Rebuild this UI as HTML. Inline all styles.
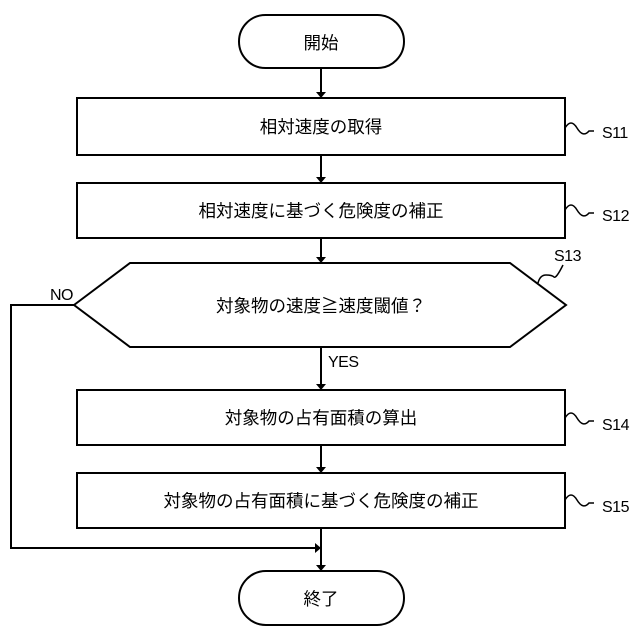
<!DOCTYPE html>
<html><head><meta charset="utf-8"><style>body{margin:0;background:#fff}svg{display:block}text{font-family:"Liberation Sans","Noto Sans CJK JP",sans-serif;fill:#000}</style></head><body>
<svg width="640" height="640" viewBox="0 0 640 640" xmlns="http://www.w3.org/2000/svg">
<g stroke="#000" stroke-width="2" fill="none">
<rect x="239" y="15" width="165" height="53" rx="26.5"/>
<rect x="77" y="98" width="488" height="57"/>
<rect x="77" y="183" width="488" height="55"/>
<polygon points="74,305 130,263 510,263 566,305 510,347 130,347"/>
<rect x="77" y="390" width="488" height="55"/>
<rect x="77" y="473" width="488" height="55"/>
<rect x="239" y="571" width="165" height="54" rx="27"/>
<line x1="321" y1="68" x2="321" y2="92"/>
<line x1="321" y1="155" x2="321" y2="177"/>
<line x1="321" y1="238" x2="321" y2="257"/>
<line x1="321" y1="347" x2="321" y2="384"/>
<line x1="321" y1="445" x2="321" y2="467"/>
<line x1="321" y1="528" x2="321" y2="565"/>
<polyline points="74,305 11,305 11,548 315,548"/>
<path d="M565,128 q6,-10 12,0 t12,3 l5,0" stroke-width="1.5"/>
<path d="M565,210 q6,-10 12,0 t12,3 l5,0" stroke-width="1.5"/>
<path d="M565,418 q6,-10 12,0 t12,3 l5,0" stroke-width="1.5"/>
<path d="M565,500 q6,-10 12,0 t12,3 l5,0" stroke-width="1.5"/>
<path d="M538,283 q2,-8 8,-8 t8,2 t9,-12" stroke-width="1.5"/>
</g>
<g fill="#000">
<path d="M316,92 L326,92 L321,98 z"/>
<path d="M316,177 L326,177 L321,183 z"/>
<path d="M316,257 L326,257 L321,263 z"/>
<path d="M316,384 L326,384 L321,390 z"/>
<path d="M316,467 L326,467 L321,473 z"/>
<path d="M316,565 L326,565 L321,571 z"/>
<path d="M315,543 L321,548 L315,553 z"/>
</g>
<g font-size="17.5" text-anchor="middle">
<text x="321" y="49">開始</text>
<text x="321" y="133">相対速度の取得</text>
<text x="321" y="217">相対速度に基づく危険度の補正</text>
<text x="321" y="312">対象物の速度≧速度閾値？</text>
<text x="321" y="424">対象物の占有面積の算出</text>
<text x="321" y="507">対象物の占有面積に基づく危険度の補正</text>
<text x="321" y="605">終了</text>
</g>
<g font-size="16" letter-spacing="-0.5">
<text x="602" y="138">S11</text>
<text x="602" y="221">S12</text>
<text x="554" y="261">S13</text>
<text x="602" y="430">S14</text>
<text x="602" y="512">S15</text>
<text x="50" y="300">NO</text>
<text x="328" y="367">YES</text>
</g>
</svg>
</body></html>
